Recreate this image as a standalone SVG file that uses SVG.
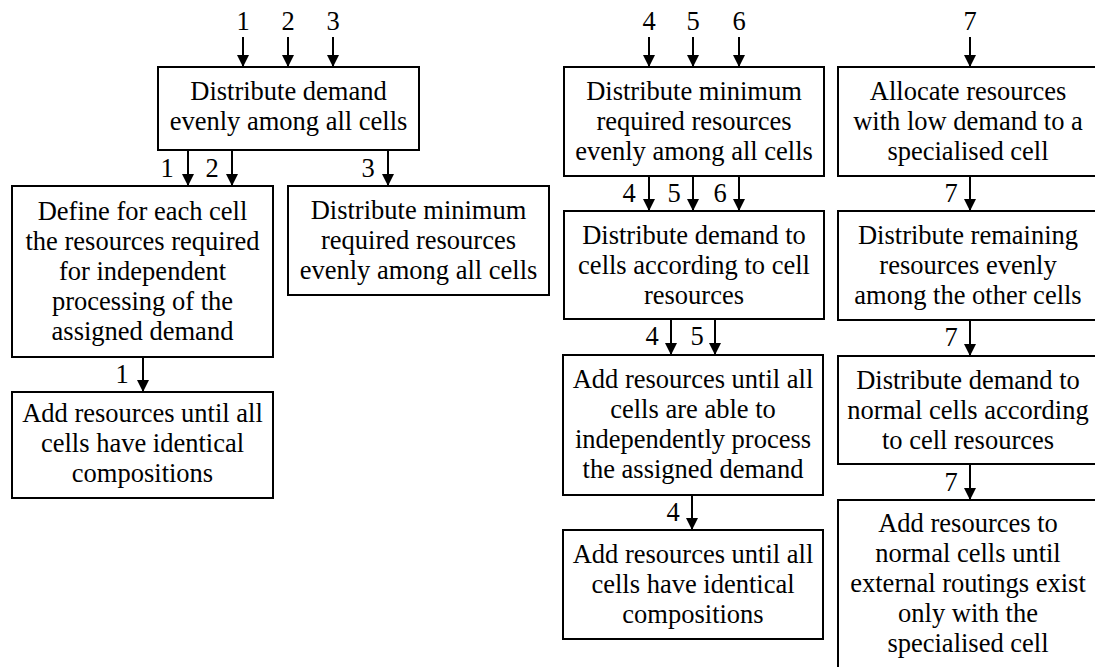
<svg xmlns="http://www.w3.org/2000/svg" width="1095" height="667" viewBox="0 0 1095 667">
<style>
.box{fill:#fff;stroke:#000;stroke-width:2}
.t{font-family:"Liberation Serif","Times New Roman",serif;font-size:26.5px;fill:#000;text-anchor:middle}
.c{stroke:#000;stroke-width:2;fill:none;marker-end:url(#ah)}
</style>
<defs>
<marker id="ah" viewBox="0 0 12 12" refX="12" refY="6" markerWidth="12" markerHeight="12" markerUnits="userSpaceOnUse" orient="auto">
<path d="M0,0 L12,6 L0,12 z" fill="#000"/>
</marker>
</defs>
<rect width="1095" height="667" fill="#fff"/>

<g id="connectors">
<path class="c" d="M243,37V67"/><path class="c" d="M288,37V67"/><path class="c" d="M333,37V67"/>
<text class="t" x="243" y="30">1</text><text class="t" x="288" y="30">2</text><text class="t" x="333" y="30">3</text>
<path class="c" d="M649,37V67"/><path class="c" d="M693,37V67"/><path class="c" d="M739,37V67"/>
<text class="t" x="649" y="30">4</text><text class="t" x="693" y="30">5</text><text class="t" x="739" y="30">6</text>
<path class="c" d="M970,37V67"/>
<text class="t" x="970" y="30">7</text>

<path class="c" d="M188,150V186"/><path class="c" d="M232,150V186"/>
<text class="t" x="167" y="177">1</text><text class="t" x="212" y="177">2</text>
<path class="c" d="M388,150V186"/>
<text class="t" x="368" y="177">3</text>
<path class="c" d="M143,357V392"/>
<text class="t" x="122" y="383">1</text>

<path class="c" d="M649,176V211"/><path class="c" d="M693,176V211"/><path class="c" d="M739,176V211"/>
<text class="t" x="629" y="202">4</text><text class="t" x="674" y="202">5</text><text class="t" x="720" y="202">6</text>
<path class="c" d="M671,319V355"/><path class="c" d="M715,319V355"/>
<text class="t" x="652" y="345">4</text><text class="t" x="697" y="345">5</text>
<path class="c" d="M692,495V530"/>
<text class="t" x="673" y="521">4</text>

<path class="c" d="M970,176V211"/>
<text class="t" x="951" y="202">7</text>
<path class="c" d="M970,320V356"/>
<text class="t" x="951" y="346">7</text>
<path class="c" d="M970,464V500"/>
<text class="t" x="951" y="491">7</text>
</g>

<g id="T1">
<rect class="box" x="158" y="67" width="261" height="83"/>
<text class="t"><tspan x="288.5" y="100">Distribute demand</tspan><tspan x="288.5" y="130">evenly among all cells</tspan></text>
</g>
<g id="D1">
<rect class="box" x="12" y="186" width="261" height="171"/>
<text class="t"><tspan x="142.5" y="220">Define for each cell</tspan><tspan x="142.5" y="250">the resources required</tspan><tspan x="142.5" y="280">for independent</tspan><tspan x="142.5" y="310">processing of the</tspan><tspan x="142.5" y="340">assigned demand</tspan></text>
</g>
<g id="M1">
<rect class="box" x="288" y="186" width="261" height="109"/>
<text class="t"><tspan x="418.5" y="219">Distribute minimum</tspan><tspan x="418.5" y="249">required resources</tspan><tspan x="418.5" y="279">evenly among all cells</tspan></text>
</g>
<g id="A1">
<rect class="box" x="12" y="392" width="261" height="106"/>
<text class="t"><tspan x="142.5" y="422">Add resources until all</tspan><tspan x="142.5" y="452">cells have identical</tspan><tspan x="142.5" y="482">compositions</tspan></text>
</g>

<g id="B1">
<rect class="box" x="564" y="67" width="260" height="109"/>
<text class="t"><tspan x="694" y="100">Distribute minimum</tspan><tspan x="694" y="130">required resources</tspan><tspan x="694" y="160">evenly among all cells</tspan></text>
</g>
<g id="B2">
<rect class="box" x="564" y="211" width="260" height="108"/>
<text class="t"><tspan x="694" y="244">Distribute demand to</tspan><tspan x="694" y="274">cells according to cell</tspan><tspan x="694" y="304">resources</tspan></text>
</g>
<g id="B3">
<rect class="box" x="563" y="355" width="260" height="140"/>
<text class="t"><tspan x="693" y="388">Add resources until all</tspan><tspan x="693" y="418">cells are able to</tspan><tspan x="693" y="448">independently process</tspan><tspan x="693" y="478">the assigned demand</tspan></text>
</g>
<g id="B4">
<rect class="box" x="563" y="530" width="260" height="109"/>
<text class="t"><tspan x="693" y="563">Add resources until all</tspan><tspan x="693" y="593">cells have identical</tspan><tspan x="693" y="623">compositions</tspan></text>
</g>

<g id="C1">
<rect class="box" x="838" y="67" width="262" height="109"/>
<text class="t"><tspan x="968" y="100">Allocate resources</tspan><tspan x="968" y="130">with low demand to a</tspan><tspan x="968" y="160">specialised cell</tspan></text>
</g>
<g id="C2">
<rect class="box" x="838" y="211" width="262" height="109"/>
<text class="t"><tspan x="968" y="244">Distribute remaining</tspan><tspan x="968" y="274">resources evenly</tspan><tspan x="968" y="304">among the other cells</tspan></text>
</g>
<g id="C3">
<rect class="box" x="838" y="356" width="262" height="108"/>
<text class="t"><tspan x="968" y="389">Distribute demand to</tspan><tspan x="968" y="419">normal cells according</tspan><tspan x="968" y="449">to cell resources</tspan></text>
</g>
<g id="C4">
<rect class="box" x="838" y="500" width="262" height="200"/>
<text class="t"><tspan x="968" y="532">Add resources to</tspan><tspan x="968" y="562">normal cells until</tspan><tspan x="968" y="592">external routings exist</tspan><tspan x="968" y="622">only with the</tspan><tspan x="968" y="652">specialised cell</tspan></text>
</g>
</svg>
